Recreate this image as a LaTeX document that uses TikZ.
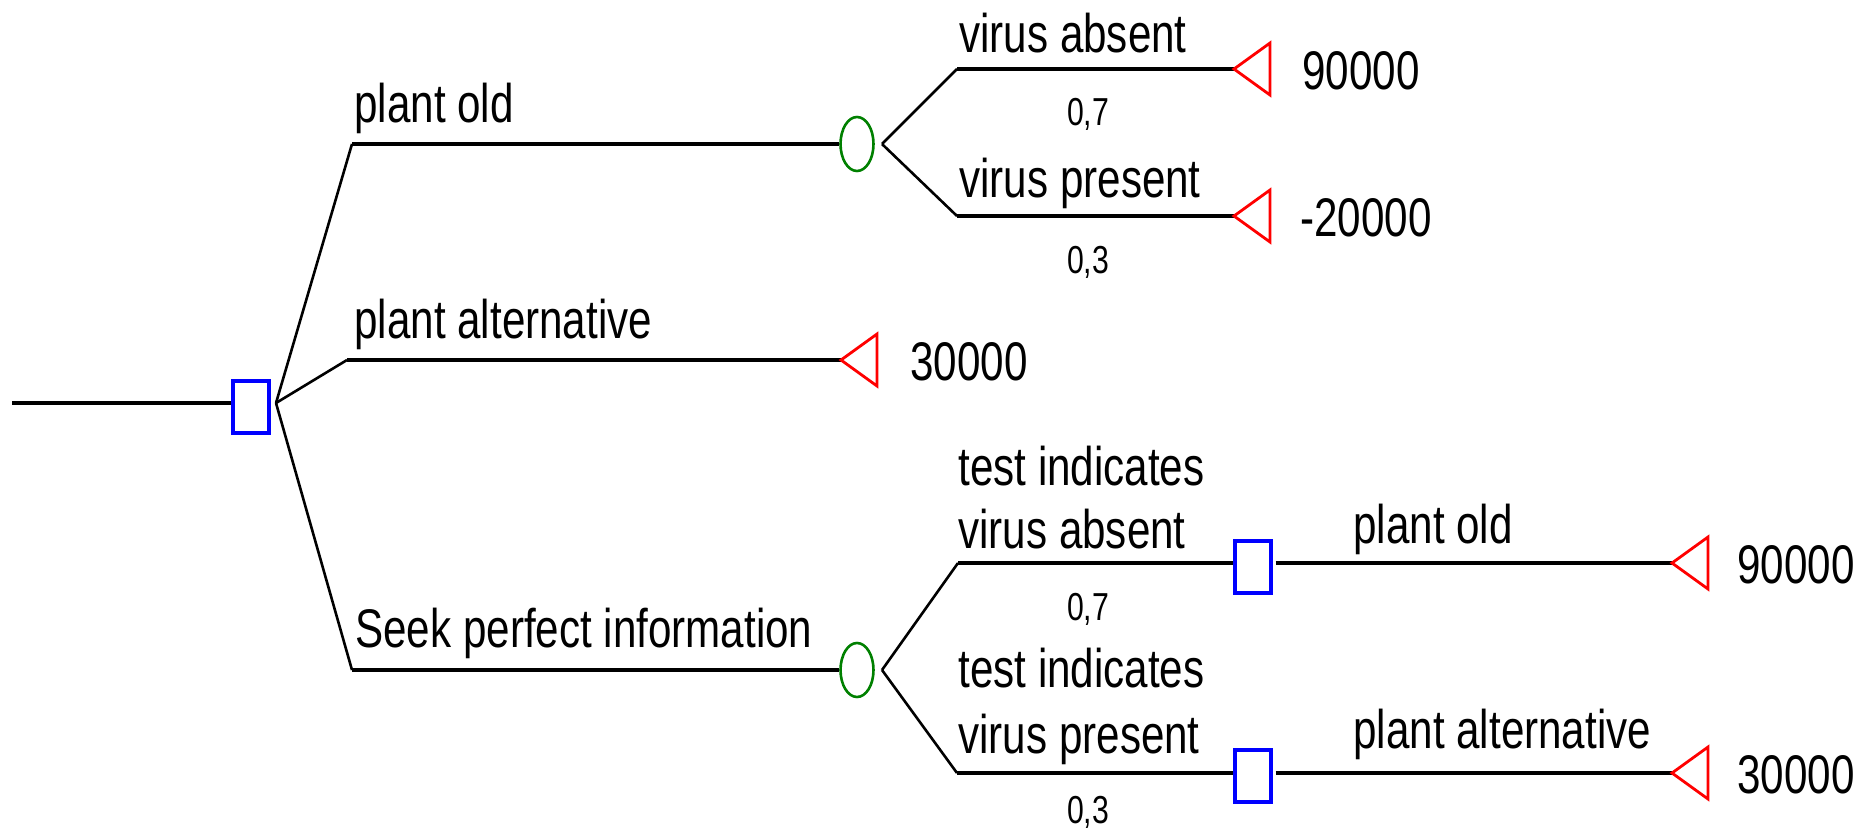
\documentclass[tikz,border=0pt]{standalone}
\usepackage{fontspec}
\setmainfont[FakeStretch=0.775]{Liberation Sans}
\usetikzlibrary{shapes.geometric}

\tikzset{
  hline/.style={line width=2pt, black},
  diag/.style={line width=1.3pt, black},
  decision/.style={draw=blue, line width=1.6pt, rectangle, minimum width=18pt, minimum height=26pt, inner sep=0pt},
  chance/.style={draw=green!50!black, line width=1.3pt, ellipse, minimum width=16.5pt, minimum height=27pt, inner sep=0pt},
  terminal/.style={draw=red, line width=1.4pt, line join=miter},
  lbl/.style={anchor=base west, inner sep=0pt, font=\fontsize{27.2}{32}\selectfont},
  prob/.style={anchor=north, inner sep=0pt, font=\fontsize{19.5}{23}\selectfont},
  payoff/.style={anchor=west, inner sep=0pt, font=\fontsize{27.2}{32}\selectfont}
}

\begin{document}
\begin{tikzpicture}[x=0.5pt, y=-0.5pt]
\useasboundingbox (0,0) rectangle (1865,831);

% ---- root decision ----
\coordinate (r0) at (12,403);
\node[decision] (d0) at (251,407) {};
\draw[hline] (r0) -- (r0 -| d0.west);
\coordinate (f0) at (276,403);

% knees of the first-level branches
\coordinate (k1) at (352,144);
\coordinate (k2) at (347,360);
\coordinate (k3) at (352,670);

% first-level chance nodes and terminal
\node[chance] (c1) at (857,144) {};
\node[chance] (c2) at (857,670) {};
\coordinate (t2) at (841,360);

\draw[diag] (f0) -- (k1);
\draw[diag] (f0) -- (k2);
\draw[diag] (f0) -- (k3);
\draw[hline] (k1) -- (c1.west);
\draw[hline] (k2) -- (t2);
\draw[hline] (k3) -- (c2.west);

\node[lbl] (l1) at (354,122) {plant old};
\node[lbl] (l2) at (354,338) {plant alternative};
\node[lbl] (l3) at (355,647) {Seek perfect information};

% ---- chance node: plant old ----
\coordinate (f1) at (882,144);
\coordinate (k11) at (957,69);
\coordinate (k12) at (957,216);
\coordinate (t11) at (1234,69);
\coordinate (t12) at (1234,216);
\draw[diag] (f1) -- (k11);
\draw[diag] (f1) -- (k12);
\draw[hline] (k11) -- (t11);
\draw[hline] (k12) -- (t12);

\node[lbl] (l11) at (959,52) {virus absent};
\node[prob] (p11) at (1088,98) {0,7};
\node[lbl] (l12) at (959,197) {virus present};
\node[prob] (p12) at (1088,246) {0,3};

% ---- chance node: seek perfect information ----
\coordinate (f2) at (882,670);
\coordinate (k31) at (958,563);
\coordinate (k32) at (957,773);
\node[decision] (d1) at (1253,567) {};
\node[decision] (d2) at (1253,776) {};
\coordinate (t31) at (1672,563);
\coordinate (t32) at (1672,773);
\draw[diag] (f2) -- (k31);
\draw[diag] (f2) -- (k32);
\draw[hline] (k31) -- (k31 -| d1.west);
\draw[hline] (k32) -- (k32 -| d2.west);
\draw[hline] ([xshift=1.5pt]d1.east |- k31) -- (t31);
\draw[hline] ([xshift=1.5pt]d2.east |- k32) -- (t32);

\node[lbl] (l31a) at (958,485) {test indicates};
\node[lbl] (l31b) at (958,548) {virus absent};
\node[prob] (p31) at (1088,593) {0,7};
\node[lbl] (l32a) at (958,687) {test indicates};
\node[lbl] (l32b) at (958,753) {virus present};
\node[prob] (p32) at (1088,796) {0,3};

\node[lbl] (l41) at (1353,543) {plant old};
\node[lbl] (l42) at (1353,748) {plant alternative};

% ---- terminal triangles ----
\foreach \t in {t11,t12,t2,t31,t32}{
  \draw[terminal] (\t) -- ++(36,-26) -- ++(0,52) -- cycle;
}

% ---- payoffs ----
\node[payoff] (v11) at (1302,71) {90000};
\node[payoff] (v12) at (1300,218) {-20000};
\node[payoff] (v2) at (910,362) {30000};
\node[payoff] (v31) at (1737,565) {90000};
\node[payoff] (v32) at (1737,775) {30000};
\end{tikzpicture}
\end{document}
